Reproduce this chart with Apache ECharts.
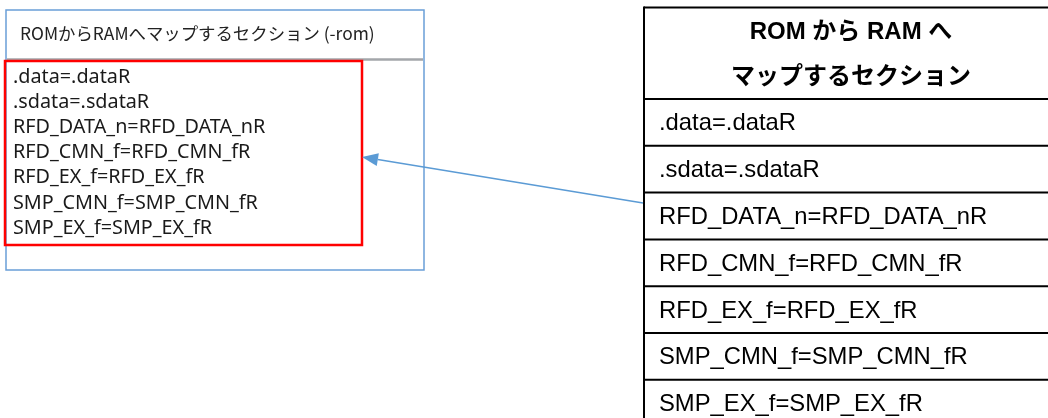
<!DOCTYPE html>
<html>
<head>
<meta charset="utf-8">
<script src="https://cdn.jsdelivr.net/npm/echarts@6/dist/echarts.min.js"></script>
<style>
html,body{margin:0;padding:0;background:#fff;}
#main{width:1048px;height:418px;}
</style>
</head>
<body>
<div id="main"></div>
<script>
// ---- data ----
const leftTitle = 'ROMからRAMへマップするセクション (-rom)';
const sections = [
  '.data=.dataR',
  '.sdata=.sdataR',
  'RFD_DATA_n=RFD_DATA_nR',
  'RFD_CMN_f=RFD_CMN_fR',
  'RFD_EX_f=RFD_EX_fR',
  'SMP_CMN_f=SMP_CMN_fR',
  'SMP_EX_f=SMP_EX_fR'
];
const tableHeader = ['ROM から RAM へ', 'マップするセクション'];

// ---- drawing ----
(function () {
const chart = echarts.init(document.getElementById('main'), null, {renderer: 'canvas'});
const blue = '#6a9fd8';
const els = [];

// left panel
els.push({type: 'rect', shape: {x: 6, y: 10, width: 418, height: 260},
  style: {fill: '#fff', stroke: blue, lineWidth: 1.5}, z: 1});
els.push({type: 'line', shape: {x1: 7, y1: 59.5, x2: 423, y2: 59.5},
  style: {stroke: '#a3a6aa', lineWidth: 2.5}, z: 2});
els.push({type: 'text', x: 20, y: 33, z: 3,
  style: {text: leftTitle, fill: '#222', font: '17.4px "Noto Sans CJK JP"', textVerticalAlign: 'middle'}});
sections.forEach((s, i) => {
  els.push({type: 'text', x: 13, y: 77 + i * 25.2, z: 3,
    style: {text: s, fill: '#1a1a1a', font: '19.8px "Noto Sans"', textVerticalAlign: 'middle'}});
});
els.push({type: 'rect', shape: {x: 5, y: 61, width: 357, height: 184},
  style: {fill: 'none', stroke: '#ff0000', lineWidth: 2.5}, z: 4});

// right table
const tx = 644, tTop = 7.5, headBottom = 99, rowH = 46.8;
els.push({type: 'line', shape: {x1: tx, y1: tTop - 1, x2: tx, y2: 418},
  style: {stroke: '#000', lineWidth: 2}, z: 5});
els.push({type: 'line', shape: {x1: tx, y1: tTop, x2: 1048, y2: tTop},
  style: {stroke: '#000', lineWidth: 2}, z: 5});
tableHeader.forEach((h, i) => {
  els.push({type: 'text', x: 851, y: 32 + i * 45, z: 5,
    style: {text: h, fill: '#000', font: 'bold 24px "Liberation Sans", "Noto Sans CJK JP"',
      textAlign: 'center', textVerticalAlign: 'middle'}});
});
sections.forEach((s, i) => {
  const y0 = headBottom + i * rowH;
  els.push({type: 'line', shape: {x1: tx, y1: y0, x2: 1048, y2: y0},
    style: {stroke: '#000', lineWidth: 2}, z: 5});
  els.push({type: 'text', x: 659, y: y0 + rowH / 2 + 1.5, z: 5,
    style: {text: s, fill: '#000', font: '23.8px "Liberation Sans"', textVerticalAlign: 'middle'}});
});

// arrow
const ax1 = 643, ay1 = 203, ax2 = 362, ay2 = 157;
const ang = Math.atan2(ay2 - ay1, ax2 - ax1);
const hl = 16, hw = 6.5;
const bx = ax2 - hl * Math.cos(ang), by = ay2 - hl * Math.sin(ang);
els.push({type: 'line', shape: {x1: ax1, y1: ay1, x2: bx, y2: by},
  style: {stroke: '#5b9bd5', lineWidth: 1.5}, z: 6});
els.push({type: 'polygon', z: 6, shape: {points: [
  [ax2, ay2],
  [bx + hw * Math.sin(ang), by - hw * Math.cos(ang)],
  [bx - hw * Math.sin(ang), by + hw * Math.cos(ang)]
]}, style: {fill: '#5b9bd5'}});

chart.setOption({animation: false, backgroundColor: '#fff', graphic: {elements: els}});
})();
</script>
</body>
</html>
